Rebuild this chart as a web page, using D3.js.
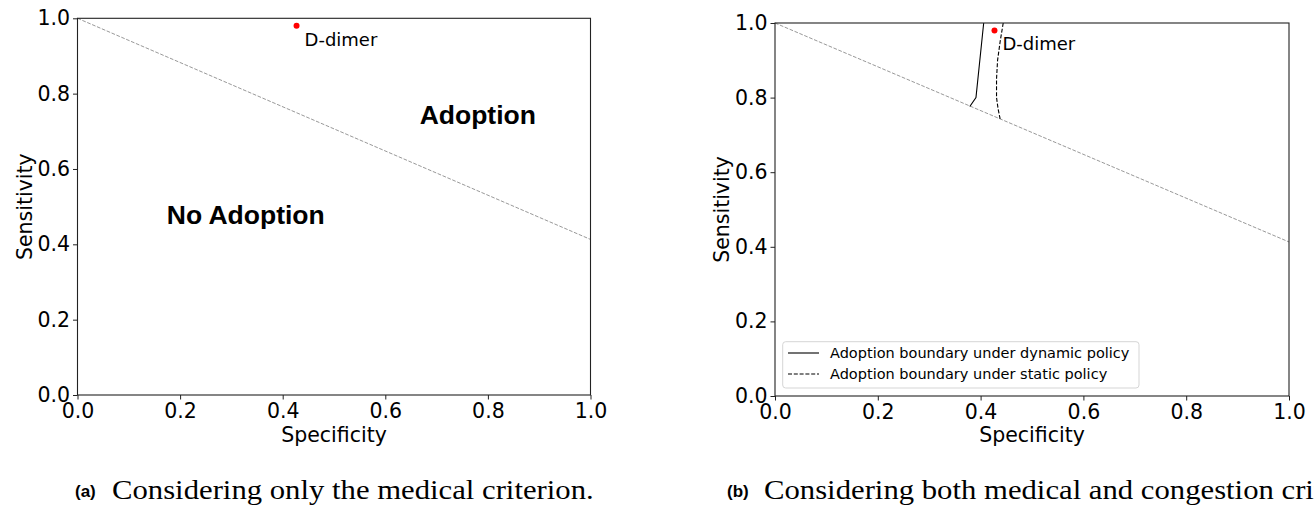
<!DOCTYPE html>
<html>
<head>
<meta charset="utf-8">
<script src="https://cdn.jsdelivr.net/npm/d3@7"></script>
<style>
  body { margin: 0; background: #fff; }
  svg { display: block; }
</style>
</head>
<body>
<svg id="chart" width="1314" height="514"></svg>
<script>
// axis ticks
const ticks = [0, 0.2, 0.4, 0.6, 0.8, 1.0];
const tickLabels = ["0.0", "0.2", "0.4", "0.6", "0.8", "1.0"];

// gray diagonal (adoption threshold of the medical criterion)
const diagSpec = [0, 1];
const diagSens = [1, 0.413];

// D-dimer test
const dimerSpec = 0.427;
const dimerSens = 0.98;

// panel (a) region labels
const regionLabels = ["Adoption", "No Adoption"];
const regionSpec = [0.667, 0.174];
const regionSens = [0.72, 0.454];

// panel (b) boundaries
const dynSpec = [0.406, 0.391, 0.379];
const dynSens = [1.0, 0.80, 0.776];
const statSpec = [0.444, 0.438, 0.433, 0.431, 0.431, 0.434, 0.438];
const statSens = [1.0, 0.95, 0.90, 0.85, 0.80, 0.77, 0.743];

const legendLabels = ["Adoption boundary under dynamic policy", "Adoption boundary under static policy"];
const captionTags = ["(a)", "(b)"];
const captionTexts = ["Considering only the medical criterion.", "Considering both medical and congestion criteria."];

const svg = d3.select("#chart");

const panels = [
  { left: 77.5, right: 590.5, top: 18.3, bottom: 395, ylabX: 25, capX: 75 },
  { left: 775, right: 1289, top: 23, bottom: 396, ylabX: 722, capX: 727 }
];

const tickFont = "'DejaVu Sans', sans-serif";
// caption font is wider in the original (Computer Modern), stretch Times to match
const captionStretch = 1.137;

function drawPanel(p, i) {
  const x = d3.scaleLinear().domain([0, 1]).range([p.left, p.right]);
  const y = d3.scaleLinear().domain([0, 1]).range([p.bottom, p.top]);
  const g = svg.append("g");

  const line = d3.line().x(d => x(d[0])).y(d => y(d[1]));

  // diagonal
  g.append("path")
    .attr("d", line(d3.zip(diagSpec, diagSens)))
    .attr("fill", "none")
    .attr("stroke", "#999")
    .attr("stroke-width", 1)
    .attr("stroke-dasharray", "3.7,1.6");

  if (i === 1) {
    g.append("path")
      .attr("d", line(d3.zip(dynSpec, dynSens)))
      .attr("fill", "none").attr("stroke", "#000").attr("stroke-width", 1.1);
    g.append("path")
      .attr("d", line(d3.zip(statSpec, statSens)))
      .attr("fill", "none").attr("stroke", "#000").attr("stroke-width", 1.1)
      .attr("stroke-dasharray", "4,1.8");
  }

  // D-dimer
  g.append("circle")
    .attr("cx", x(dimerSpec)).attr("cy", y(dimerSens))
    .attr("r", 3).attr("fill", "red");
  g.append("text")
    .attr("x", x(dimerSpec) + 8).attr("y", y(dimerSens) + 20)
    .attr("font-family", tickFont).attr("font-size", 18)
    .text("D-dimer");

  if (i === 0) {
    g.selectAll(".region").data(regionLabels).enter().append("text")
      .attr("x", (d, k) => x(regionSpec[k]))
      .attr("y", (d, k) => y(regionSens[k]))
      .attr("font-family", "'Liberation Sans', Arial, sans-serif")
      .attr("font-weight", "bold")
      .attr("font-size", 26.5)
      .text(d => d);
  }

  // frame
  g.append("rect")
    .attr("x", p.left).attr("y", p.top)
    .attr("width", p.right - p.left).attr("height", p.bottom - p.top)
    .attr("fill", "none").attr("stroke", "#222").attr("stroke-width", 1.1);

  // axes
  const xAxis = d3.axisBottom(x).tickValues(ticks).tickFormat((d, k) => tickLabels[k])
    .tickSizeInner(4.5).tickSizeOuter(0).tickPadding(3);
  const yAxis = d3.axisLeft(y).tickValues(ticks).tickFormat((d, k) => tickLabels[k])
    .tickSizeInner(4.5).tickSizeOuter(0).tickPadding(3);

  const gx = g.append("g").attr("transform", `translate(0,${p.bottom})`).call(xAxis);
  const gy = g.append("g").attr("transform", `translate(${p.left},0)`).call(yAxis);
  [gx, gy].forEach(a => {
    a.select(".domain").remove();
    a.selectAll("line").attr("stroke", "#222");
    a.selectAll("text").attr("font-family", tickFont).attr("font-size", 20.5).attr("fill", "#000");
  });
  gx.selectAll("text").attr("dy", null).attr("y", 23);

  // axis titles
  g.append("text")
    .attr("x", (p.left + p.right) / 2).attr("y", 442)
    .attr("text-anchor", "middle")
    .attr("font-family", tickFont).attr("font-size", 20.5)
    .text("Specificity");
  g.append("text")
    .attr("transform", `translate(${p.ylabX},${(p.top + p.bottom) / 2}) rotate(-90)`)
    .attr("text-anchor", "middle").attr("dy", "0.35em")
    .attr("font-family", tickFont).attr("font-size", 20.5)
    .text("Sensitivity");

  if (i === 1) {
    const lg = g.append("g");
    lg.append("rect")
      .attr("x", 782.7).attr("y", 341.7).attr("width", 356.3).attr("height", 46.3)
      .attr("rx", 3).attr("fill", "#fff").attr("fill-opacity", 0.8)
      .attr("stroke", "#d5d5d5").attr("stroke-width", 1);
    legendLabels.forEach((t, k) => {
      const ly = 353 + k * 21;
      lg.append("line")
        .attr("x1", 788).attr("x2", 819).attr("y1", ly).attr("y2", ly)
        .attr("stroke", "#000").attr("stroke-width", 1.1)
        .attr("stroke-dasharray", k === 1 ? "4,1.8" : null);
      lg.append("text")
        .attr("x", 830).attr("y", ly).attr("dy", "0.35em")
        .attr("font-family", tickFont).attr("font-size", 14.5)
        .text(t);
    });
  }

  // caption
  svg.append("text")
    .attr("x", p.capX).attr("y", 497)
    .attr("font-family", "'Liberation Sans', Arial, sans-serif")
    .attr("font-weight", "bold").attr("font-size", 17)
    .text(captionTags[i]);
  const cap = svg.append("text")
    .attr("x", p.capX + 37).attr("y", 499)
    .attr("font-family", "'Liberation Serif', 'Times New Roman', serif")
    .attr("font-size", 27)
    .text(captionTexts[i]);
  const natural = cap.node().getComputedTextLength();
  cap.attr("textLength", natural * captionStretch).attr("lengthAdjust", "spacingAndGlyphs");
}

panels.forEach(drawPanel);
</script>
</body>
</html>
